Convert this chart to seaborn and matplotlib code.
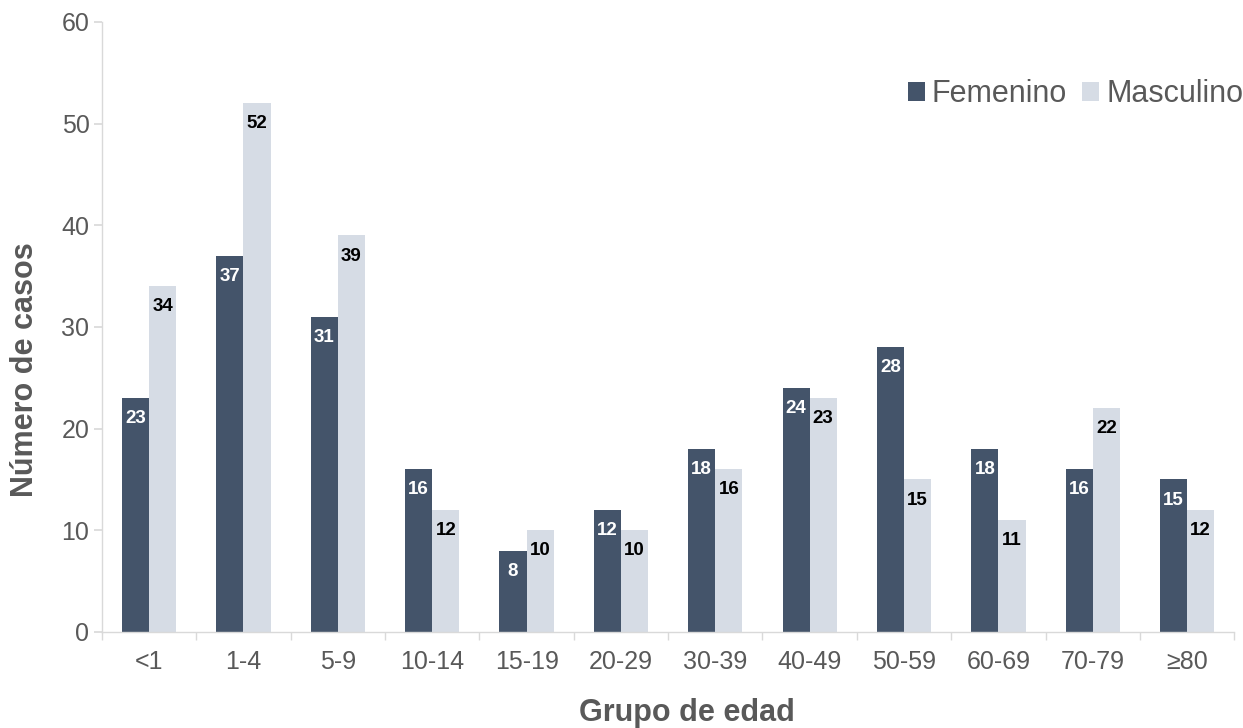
import matplotlib
matplotlib.use("Agg")
import matplotlib.pyplot as plt
import seaborn as sns
import pandas as pd

groups = ["<1", "1-4", "5-9", "10-14", "15-19", "20-29", "30-39", "40-49", "50-59", "60-69", "70-79", "≥80"]
femenino = [23, 37, 31, 16, 8, 12, 18, 24, 28, 18, 16, 15]
masculino = [34, 52, 39, 12, 10, 10, 16, 23, 15, 11, 22, 12]
series = ["Femenino", "Masculino"]
colors = ["#44546A", "#D6DCE5"]
yticks = [0, 10, 20, 30, 40, 50, 60]

df = pd.DataFrame({
    "grupo": groups * 2,
    "casos": femenino + masculino,
    "sexo": [series[0]] * len(groups) + [series[1]] * len(groups),
})

sns.set_theme(style="white")
plt.rcParams["font.family"] = ["Liberation Sans", "DejaVu Sans"]

fig = plt.figure(figsize=(12.43, 7.28), dpi=100)
ax = fig.add_axes([0.082, 0.132, 0.911, 0.838])

sns.barplot(data=df, x="grupo", y="casos", hue="sexo", palette=colors,
            order=groups, hue_order=series, width=0.575, saturation=1,
            linewidth=0, edgecolor="none", ax=ax, legend=True)

label_colors = ["white", "black"]
for cont, lc in zip(ax.containers, label_colors):
    ax.bar_label(cont, labels=[f"{int(v)}" for v in cont.datavalues],
                 padding=-21, color=lc, fontsize=13.5, fontweight="bold")

ax.set_ylim(0, 60)
ax.set_yticks(yticks)
ax.set_xlim(-0.5, len(groups) - 0.5)
ax.set_xticks(range(len(groups)))
ax.set_xticks([i - 0.5 for i in range(len(groups) + 1)], minor=True)

for s in ["top", "right"]:
    ax.spines[s].set_visible(False)
for s in ["left", "bottom"]:
    ax.spines[s].set_color("#D9D9D9")
    ax.spines[s].set_linewidth(1.0)

ax.tick_params(axis="y", which="major", left=True, length=6, color="#D9D9D9",
               labelsize=18, labelcolor="#595959", pad=3)
ax.tick_params(axis="x", which="major", bottom=False, labelsize=18,
               labelcolor="#595959", pad=7)
ax.tick_params(axis="x", which="minor", bottom=True, length=6, color="#D9D9D9")

ax.set_xlabel("Grupo de edad", fontsize=22, fontweight="bold", color="#595959")
ax.set_ylabel("Número de casos", fontsize=22, fontweight="bold", color="#595959")
ax.xaxis.set_label_coords(0.5165, -0.108)
ax.yaxis.set_label_coords(-0.0545, 0.4295)

leg = ax.legend(loc="upper right", bbox_to_anchor=(1.0185, 0.926), ncol=2, frameon=False,
                fontsize=22, handlelength=0.55, handleheight=0.55, handletextpad=0.22,
                columnspacing=0.5, borderaxespad=0)
for t in leg.get_texts():
    t.set_color("#595959")

fig.savefig("out.png", dpi=100)
